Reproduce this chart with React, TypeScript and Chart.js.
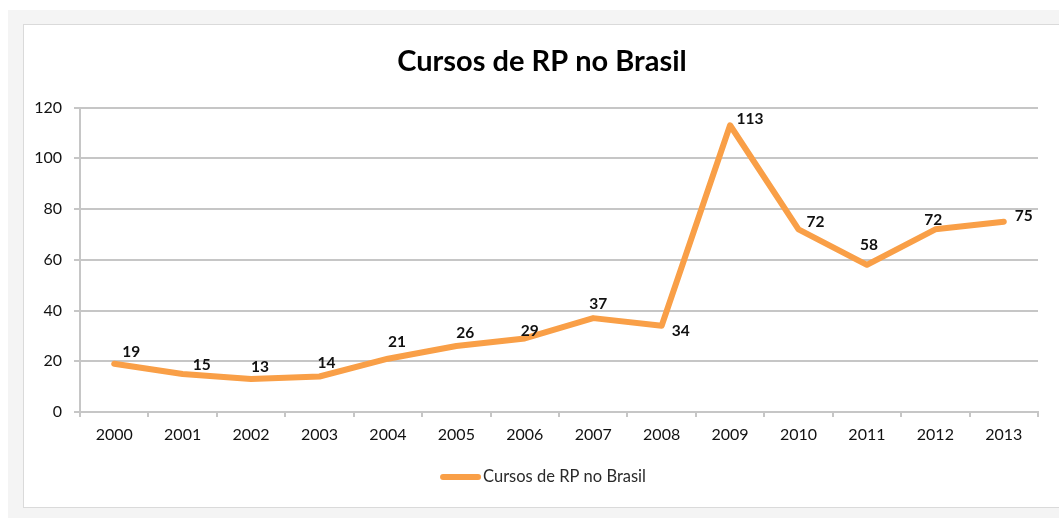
import React, { useEffect, useRef } from "react";
import { Chart, registerables } from "chart.js";

Chart.register(...registerables);

const TITLE = "Cursos de RP no Brasil";
const SERIES_LABEL = "Cursos de RP no Brasil";
const YEARS = ["2000", "2001", "2002", "2003", "2004", "2005", "2006", "2007", "2008", "2009", "2010", "2011", "2012", "2013"];
const COURSES = [19, 15, 13, 14, 21, 26, 29, 37, 34, 113, 72, 58, 72, 75];
const Y_MIN = 0;
const Y_MAX = 120;
const Y_STEP = 20;

// label nudges (pixels, relative to each point) as placed in the original
const LABEL_DX = [17, 19, 9, 7, 9, 9, 5, 5, 19, 20, 17, 2, -2, 20];
const LABEL_DY = [-12, -9, -12, -13, -17, -13, -7, -14, 5, -6, -7, -20, -9, -6];

const FONT = "Lato, 'Open Sans', sans-serif";
const ORANGE = "#F99F47";
const GRID = "#c6c6c6";
const TEXT = "#121212";
const CENTER_X = 542;

const titlePlugin = {
  id: "customTitle",
  afterDraw(chart: any) {
    const ctx = chart.ctx;
    ctx.save();
    ctx.font = `bold 29px ${FONT}`;
    ctx.fillStyle = "#000000";
    ctx.textAlign = "center";
    ctx.textBaseline = "middle";
    ctx.fillText(TITLE, CENTER_X, 62);
    ctx.restore();
  },
};

const dataLabelPlugin = {
  id: "dataLabels",
  afterDatasetsDraw(chart: any) {
    const ctx = chart.ctx;
    const meta = chart.getDatasetMeta(0);
    ctx.save();
    ctx.font = `bold 15.5px ${FONT}`;
    ctx.fillStyle = "#111111";
    ctx.textAlign = "center";
    ctx.textBaseline = "middle";
    meta.data.forEach((pt: any, i: number) => {
      ctx.fillText(String(COURSES[i]), pt.x + LABEL_DX[i], pt.y + LABEL_DY[i]);
    });
    ctx.restore();
  },
};

const legendPlugin = {
  id: "bottomLegend",
  afterDraw(chart: any) {
    const ctx = chart.ctx;
    const y = 477;
    ctx.save();
    ctx.font = `16.5px ${FONT}`;
    const tw = ctx.measureText(SERIES_LABEL).width;
    const lineLen = 35;
    const gap = 5;
    const total = 3 + lineLen + gap + tw;
    const x0 = CENTER_X + 1 - total / 2 + 3;
    ctx.strokeStyle = ORANGE;
    ctx.lineWidth = 6;
    ctx.lineCap = "round";
    ctx.beginPath();
    ctx.moveTo(x0, y);
    ctx.lineTo(x0 + lineLen, y);
    ctx.stroke();
    ctx.fillStyle = "#2a2a2a";
    ctx.textAlign = "left";
    ctx.textBaseline = "middle";
    ctx.fillText(SERIES_LABEL, x0 + lineLen + gap, y);
    ctx.restore();
  },
};

export default function App() {
  const ref = useRef<HTMLCanvasElement | null>(null);

  useEffect(() => {
    if (!ref.current) return;
    const chart = new Chart(ref.current, {
      type: "line",
      data: {
        labels: YEARS,
        datasets: [
          {
            label: SERIES_LABEL,
            data: COURSES,
            borderColor: ORANGE,
            backgroundColor: ORANGE,
            borderWidth: 6,
            pointRadius: 0,
            pointHoverRadius: 0,
            tension: 0,
            borderCapStyle: "round",
            borderJoinStyle: "round",
            fill: false,
          },
        ],
      },
      options: {
        responsive: false,
        animation: false,
        devicePixelRatio: 1,
        layout: { padding: { left: 20, right: 21, top: 107.5, bottom: 66 } },
        plugins: {
          legend: { display: false },
          tooltip: { enabled: false },
          title: { display: false },
        },
        scales: {
          x: {
            type: "category",
            offset: true,
            grid: {
              display: true,
              drawOnChartArea: false,
              drawTicks: true,
              tickLength: 5,
              color: GRID,
              lineWidth: 2,
              offset: true,
            },
            border: { display: true, color: GRID, width: 2 },
            ticks: {
              color: TEXT,
              font: { family: FONT, size: 16 },
              padding: 8,
              maxRotation: 0,
              autoSkip: false,
            },
            afterFit: (s: any) => {
              s.height = 40;
            },
          },
          y: {
            min: Y_MIN,
            max: Y_MAX,
            grid: {
              color: GRID,
              lineWidth: 2,
              drawTicks: true,
              tickLength: 6,
            },
            border: { display: true, color: GRID, width: 2 },
            ticks: {
              stepSize: Y_STEP,
              color: TEXT,
              font: { family: FONT, size: 16 },
              padding: 12,
            },
            afterFit: (s: any) => {
              s.width = 60;
            },
          },
        },
      },
      plugins: [dataLabelPlugin, legendPlugin, titlePlugin],
    });
    return () => chart.destroy();
  }, []);

  return (
    <div>
      <div
        style={{
          position: "fixed",
          left: 8,
          top: 10,
          width: 1200,
          height: 700,
          background: "#f4f4f4",
        }}
      />
      <div
        style={{
          position: "fixed",
          left: 23,
          top: 24,
          width: 1200,
          height: 482,
          background: "#ffffff",
          border: "1.5px solid #dadada",
        }}
      />
      <canvas
        ref={ref}
        width={1059}
        height={518}
        style={{ position: "fixed", left: 0, top: 0, width: 1059, height: 518, display: "block" }}
      />
    </div>
  );
}
